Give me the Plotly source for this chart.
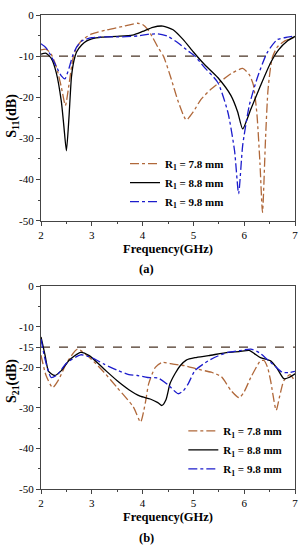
import plotly.graph_objects as go

# ---------------- data ----------------
# S11 (top panel)
s11_f_78 = [2.0, 2.1, 2.2, 2.3, 2.4, 2.48, 2.55, 2.63, 2.7, 2.8, 3.0, 3.3, 3.6, 3.9, 4.0, 4.1, 4.2, 4.3, 4.41, 4.55, 4.7, 4.86, 5.0, 5.15, 5.35, 5.55, 5.75, 5.97, 6.1, 6.18, 6.25, 6.31, 6.36, 6.42, 6.47, 6.55, 6.65, 6.8, 7.0]
s11_v_78 = [-8.5, -8.3, -9.5, -12.5, -17.5, -22, -17, -10.5, -8, -6.2, -4.6, -3.6, -2.8, -2.0, -2.3, -3.5, -5.5, -7.8, -10, -15, -21, -25.5, -23.5, -20.5, -18, -16, -14.2, -13, -14.5, -17, -24, -36, -48, -30, -18, -10.5, -7.8, -6.3, -5.4]

s11_f_88 = [2.0, 2.1, 2.2, 2.3, 2.4, 2.45, 2.5, 2.55, 2.6, 2.65, 2.7, 2.8, 2.9, 3.0, 3.2, 3.5, 3.8, 4.0, 4.2, 4.4, 4.6, 4.8, 5.0, 5.2, 5.48, 5.74, 5.87, 5.97, 6.13, 6.32, 6.52, 6.68, 6.85, 7.0]
s11_v_88 = [-9.5, -9.3, -10.5, -14, -21, -27, -33, -25, -15, -11, -9, -7.3, -6.3, -5.8, -5.4, -5.2, -4.9, -4.0, -3.0, -2.7, -3.6, -6, -9, -11.8, -15.2, -19.6, -23.5, -27.7, -22.9, -17.2, -11.6, -8.4, -6.3, -5.2]

s11_f_98 = [2.0, 2.1, 2.2, 2.3, 2.4, 2.47, 2.55, 2.62, 2.7, 2.8, 3.0, 3.3, 3.6, 3.9, 4.1, 4.3, 4.5, 4.7, 4.9, 5.03, 5.2, 5.48, 5.68, 5.81, 5.89, 5.97, 6.1, 6.26, 6.45, 6.65, 6.85, 7.0]
s11_v_98 = [-7, -8, -10, -12.5, -14.8, -15.5, -13, -10, -7.8, -6.3, -5.5, -5.3, -5.3, -5.1, -4.7, -4.6, -5.2, -6.8, -8.8, -10, -12.5, -16.4, -23.7, -33, -43.4, -31.7, -22, -15.2, -9.2, -6.0, -5.4, -5.1]

# S21 (bottom panel)
s21_f_78 = [2.0, 2.1, 2.23, 2.35, 2.5, 2.72, 2.95, 3.24, 3.5, 3.82, 3.96, 4.05, 4.12, 4.25, 4.38, 4.6, 4.83, 5.1, 5.35, 5.55, 5.74, 5.9, 6.0, 6.13, 6.32, 6.39, 6.46, 6.52, 6.63, 6.7, 6.78, 6.9, 7.0]
s21_v_78 = [-17, -22, -25, -23, -19, -15.5, -17.5, -21.2, -25, -29.8, -33.5, -29, -24, -20, -18.8, -19.2, -19.6, -20.5, -21.2, -22.3, -25.7, -27.5, -26, -22.5, -18.4, -18.3, -20, -23.3, -30.6, -27, -23.3, -21.8, -23.5]

s21_f_88 = [2.0, 2.08, 2.15, 2.27, 2.4, 2.55, 2.78, 2.95, 3.24, 3.5, 3.73, 3.95, 4.15, 4.3, 4.38, 4.46, 4.54, 4.64, 4.74, 4.86, 5.03, 5.3, 5.68, 5.9, 6.1, 6.2, 6.32, 6.52, 6.65, 6.78, 6.88, 7.0]
s21_v_88 = [-12.5, -17, -21, -22, -20.8, -18.3, -16.3, -17.1, -20.4, -23.3, -25.5, -27.1, -27.8, -28.7, -29.4, -28, -24, -21.5, -19.6, -18.2, -17.6, -17.1, -16.3, -16.1, -15.8, -16.6, -17.6, -18.4, -20.3, -22.8, -22.5, -21.6]

s21_f_98 = [2.0, 2.08, 2.2, 2.32, 2.5, 2.78, 3.0, 3.24, 3.5, 3.73, 3.9, 4.1, 4.3, 4.5, 4.7, 4.8, 4.9, 5.03, 5.29, 5.48, 5.68, 5.9, 6.13, 6.3, 6.45, 6.6, 6.75, 6.88, 7.0]
s21_v_98 = [-13, -18, -22.5, -21.8, -19, -16.9, -17.6, -19.2, -20.7, -21.8, -22.0, -22.5, -22.6, -24.3, -26.5, -25.8, -24, -20.8, -18.4, -17.2, -16.3, -15.9, -15.5, -16.4, -18, -19.6, -21.2, -21.3, -21]

s11_threshold = -10
s21_threshold = -15

series_labels = ["<b>R<sub>1</sub> = 7.8 mm</b>", "<b>R<sub>1</sub> = 8.8 mm</b>", "<b>R<sub>1</sub> = 9.8 mm</b>"]
x_ticks = [2, 3, 4, 5, 6, 7]
s11_yticks = [0, -10, -20, -30, -40, -50]
s21_yticks = [0, -10, -15, -20, -30, -40, -50]

# ---------------- styling ----------------
FONT = "Liberation Serif"
C_BROWN = "#b0683a"
C_BLACK = "#000000"
C_BLUE = "#1c1ccc"
C_THR = "#4a3526"
AXC = "#444444"

W, H = 307, 550
ML, MR, MT, MB = 41, 9, 12, 61
PH = H - MT - MB
PW = W - ML - MR

def py2paper(py):
    return (H - MB - py) / PH

def px2paper(px):
    return (px - ML) / PW

fig = go.Figure()

styles = [
    dict(color=C_BROWN, width=1.3, dash="dashdot"),
    dict(color=C_BLACK, width=1.3, dash="solid"),
    dict(color=C_BLUE, width=1.3, dash="dashdot"),
]

top = [(s11_f_78, s11_v_78), (s11_f_88, s11_v_88), (s11_f_98, s11_v_98)]
bot = [(s21_f_78, s21_v_78), (s21_f_88, s21_v_88), (s21_f_98, s21_v_98)]

# threshold lines
fig.add_trace(go.Scatter(x=[x_ticks[0], x_ticks[-1]], y=[s11_threshold, s11_threshold], mode="lines",
                         line=dict(color=C_THR, width=1.3, dash="dash"), showlegend=False,
                         xaxis="x", yaxis="y", hoverinfo="skip"))
fig.add_trace(go.Scatter(x=[x_ticks[0], x_ticks[-1]], y=[s21_threshold, s21_threshold], mode="lines",
                         line=dict(color=C_THR, width=1.3, dash="dash"), showlegend=False,
                         xaxis="x2", yaxis="y2", hoverinfo="skip"))

for (f, v), st, lab in zip(top, styles, series_labels):
    fig.add_trace(go.Scatter(x=f, y=v, mode="lines", name=lab, line=dict(shape="spline", smoothing=0.6, **st),
                             xaxis="x", yaxis="y", legend="legend"))
for (f, v), st, lab in zip(bot, styles, series_labels):
    fig.add_trace(go.Scatter(x=f, y=v, mode="lines", name=lab, line=dict(shape="spline", smoothing=0.6, **st),
                             xaxis="x2", yaxis="y2", legend="legend2"))

top_dom = [py2paper(219), 1.0]
bot_dom = [0.0, py2paper(285)]

def xax(anchor):
    return dict(range=[2, 7], tickvals=x_ticks, ticks="outside", ticklen=4, tickwidth=1, tickcolor=AXC,
                showline=True, linecolor=AXC, linewidth=1.2, mirror=True, showgrid=False, zeroline=False,
                minor=dict(dtick=0.5, ticklen=2, tickcolor=AXC, ticks="outside", showgrid=False),
                tickfont=dict(family=FONT, size=11, color="#000"), anchor=anchor)

def yax(anchor, dom, tv):
    return dict(range=[-50, 0], tickvals=tv, ticktext=[str(t) for t in tv], ticks="outside", ticklen=4,
                tickwidth=1, tickcolor=AXC, showline=True, linecolor=AXC, linewidth=1.2, mirror=True,
                showgrid=False, zeroline=False, domain=dom,
                minor=dict(tickvals=[-5, -15, -25, -35, -45], ticklen=2, tickcolor=AXC, ticks="outside", showgrid=False),
                tickfont=dict(family=FONT, size=11, color="#000"), anchor=anchor)

legend_common = dict(bgcolor="rgba(0,0,0,0)", font=dict(family=FONT, size=11, color="#000"),
                     itemwidth=30, tracegroupgap=0, xanchor="left", yanchor="top")

fig.update_layout(
    width=W, height=H, margin=dict(l=ML, r=MR, t=MT, b=MB),
    paper_bgcolor="white", plot_bgcolor="white",
    showlegend=True,
    xaxis=xax("y"), yaxis=yax("x", top_dom, s11_yticks),
    xaxis2=xax("y2"), yaxis2=yax("x2", bot_dom, s21_yticks),
    legend=dict(x=px2paper(126), y=py2paper(147), **legend_common),
    legend2=dict(x=px2paper(185), y=py2paper(416), **legend_common),
    font=dict(family=FONT, color="#000"),
)

ann = [
    ("<b>Frequency(GHz)</b>", 170, 247, 0, 12.5),
    ("<b>(a)</b>", 148, 268, 0, 12.5),
    ("<b>Frequency(GHz)</b>", 170, 517, 0, 12.5),
    ("<b>(b)</b>", 148, 538, 0, 12.5),
    ("<b>S<sub>11</sub>(dB)</b>", 12, 113, -90, 14),
    ("<b>S<sub>21</sub>(dB)</b>", 12, 380, -90, 14),
]
for txt, x, y, ang, sz in ann:
    fig.add_annotation(text=txt, x=px2paper(x), y=py2paper(y), xref="paper", yref="paper",
                       showarrow=False, textangle=ang, xanchor="center", yanchor="middle",
                       font=dict(family=FONT, size=sz, color="#000"))

fig.write_html("out.html", config={"displayModeBar": False},
               post_script="document.body.style.margin='0';document.body.style.overflow='hidden';")
